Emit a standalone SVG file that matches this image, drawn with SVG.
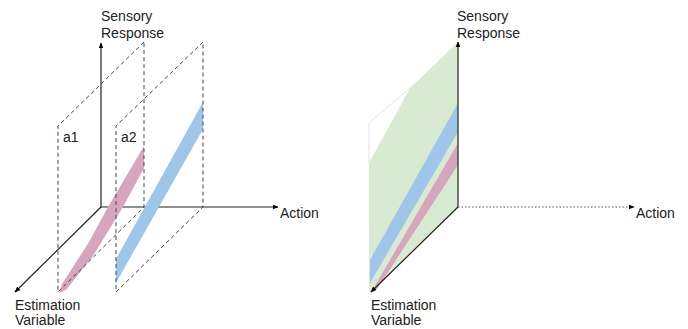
<svg xmlns="http://www.w3.org/2000/svg" width="688" height="329" viewBox="0 0 688 329">
<defs>
<marker id="arr" viewBox="0 0 10 10" refX="9" refY="5" markerWidth="6" markerHeight="6" orient="auto" markerUnits="userSpaceOnUse">
<path d="M0,1 L10,5 L0,9 z" fill="#000"/>
</marker>
</defs>
<style>
.axis{stroke:#222;stroke-width:1.2;fill:none}
.dot{stroke:#555;stroke-width:1;stroke-dasharray:1.5 2;fill:none}
.dash{stroke:#444;stroke-width:1;stroke-dasharray:4 3;fill:none}
.pink{fill:#d5a6bd}
.blue{fill:#9fc5e8}
.green{fill:#d9ead3}
text{font-family:"Liberation Sans",Arial,sans-serif;font-size:14px;fill:#222}
</style>
<rect width="688" height="329" fill="#fff"/>
<g id="left-panel">
<g id="left-axes">
<line class="axis" x1="101" y1="207" x2="101" y2="43" marker-end="url(#arr)"/>
<line class="axis" x1="101" y1="207" x2="278" y2="207" marker-end="url(#arr)"/>
<line class="axis" x1="101" y1="207" x2="15" y2="292" marker-end="url(#arr)"/>
</g>
<g id="left-bands">
<polygon class="pink" points="144,146 144,168 123,207 93,256 66,290 59,293 62,284 89,242 108,207"/>
<polygon class="blue" points="203,102 203,129 116,283 116,259"/>
</g>
<g id="plane-a1">
<polygon class="dash" points="144,42 58,126 58,292 144,207"/>
<text x="63" y="142">a1</text>
</g>
<g id="plane-a2">
<polygon class="dash" points="203,42 116,126 116,292 203,207"/>
<text x="121" y="142">a2</text>
</g>
<g id="left-labels">
<text x="101" y="21">Sensory</text>
<text x="101" y="38">Response</text>
<text x="280" y="218">Action</text>
<text x="15" y="310">Estimation</text>
<text x="15" y="325">Variable</text>
</g>
</g>
<g id="right-panel">
<g id="right-surface">
<polygon class="green" points="458,42 458,207 371,292 369,290 369,163 410,88"/>
<polyline points="369,163 369,123 410,88" fill="none" stroke="#e2e2e2" stroke-width="1"/>
<polygon class="blue" points="458,103 458,132 370,283 370,260"/>
<polygon class="pink" points="458,143 458,165 377,289 372,291"/>
</g>
<g id="right-axes">
<line class="axis" x1="458" y1="207" x2="458" y2="42" marker-end="url(#arr)"/>
<line class="dot" x1="458" y1="207" x2="634" y2="207" marker-end="url(#arr)"/>
<line class="axis" x1="458" y1="207" x2="371" y2="292" marker-end="url(#arr)"/>
</g>
<g id="right-labels">
<text x="457" y="21">Sensory</text>
<text x="457" y="38">Response</text>
<text x="636" y="218">Action</text>
<text x="371" y="310">Estimation</text>
<text x="371" y="325">Variable</text>
</g>
</g>
</svg>
